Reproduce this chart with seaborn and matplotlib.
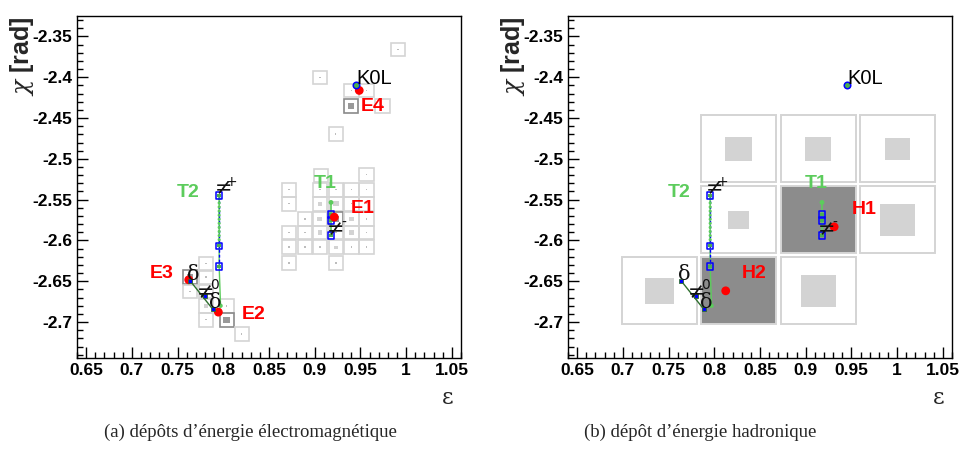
import numpy as np
import pandas as pd
import matplotlib.pyplot as plt
from matplotlib.patches import Rectangle
from matplotlib.ticker import MultipleLocator, FuncFormatter
import seaborn as sns

sns.set_theme(style='white')
plt.rcParams['font.family'] = ['Liberation Sans', 'DejaVu Sans']
plt.rcParams['mathtext.fontset'] = 'dejavuserif'

# ---------------- DONNEES ----------------
# cellules ECAL : eta, phi, energie (GeV), graine du cluster
ecal_eta = [0.9913, 0.9057, 0.9403, 0.9567, 0.9396, 0.9742, 0.9229,
            0.9065, 0.9567,
            0.8719, 0.9057, 0.9232, 0.9403, 0.9567,
            0.8719, 0.9057, 0.9232, 0.9403, 0.9567,
            0.8893, 0.9057, 0.9232, 0.9403, 0.9567,
            0.8719, 0.8893, 0.9057, 0.9232, 0.9403, 0.9567,
            0.8719, 0.8893, 0.9057, 0.9232, 0.9403, 0.9567,
            0.8719, 0.9232,
            0.7811, 0.7637, 0.7811, 0.7637, 0.7811, 0.7811, 0.8037,
            0.7811, 0.8037, 0.8201]
ecal_phi = [-2.3663, -2.4002, -2.4162, -2.4162, -2.4350, -2.4350, -2.4697,
            -2.5203, -2.5195,
            -2.5379, -2.5379, -2.5379, -2.5379, -2.5379,
            -2.5551, -2.5551, -2.5551, -2.5551, -2.5551,
            -2.5739, -2.5739, -2.5739, -2.5739, -2.5739,
            -2.5902, -2.5902, -2.5902, -2.5902, -2.5902, -2.5902,
            -2.6082, -2.6082, -2.6082, -2.6082, -2.6082, -2.6082,
            -2.6278, -2.6278,
            -2.6286, -2.6449, -2.6449, -2.6625, -2.6625, -2.6801, -2.6801,
            -2.6972, -2.6972, -2.7148]
ecal_e = [0.01, 0.01, 0.01, 0.01, 0.20, 0.01, 0.01,
          0.01, 0.01,
          0.01, 0.01, 0.01, 0.01, 0.01,
          0.01, 0.08, 0.15, 0.01, 0.01,
          0.01, 0.12, 0.20, 0.10, 0.01,
          0.01, 0.01, 0.10, 0.01, 0.10, 0.01,
          0.01, 0.01, 0.01, 0.06, 0.01, 0.01,
          0.01, 0.01,
          0.01, 0.20, 0.01, 0.01, 0.01, 0.08, 0.01,
          0.01, 0.20, 0.01]
ecal_seed = [0, 0, 0, 0, 1, 0, 0,
             0, 0,
             0, 0, 0, 0, 0,
             0, 0, 0, 0, 0,
             0, 0, 1, 0, 0,
             0, 0, 0, 0, 0, 0,
             0, 0, 0, 0, 0, 0,
             0, 0,
             0, 1, 0, 0, 0, 0, 0,
             0, 1, 0]

# cellules HCAL
hcal_eta = [0.8264, 0.9136, 1.0002, 0.8264, 0.9136, 1.0002, 0.7400, 0.8264, 0.9136]
hcal_phi = [-2.4879, -2.4879, -2.4879, -2.5747, -2.5747, -2.5747, -2.6619, -2.6619, -2.6619]
hcal_e = [4.9, 4.9, 4.4, 2.9, 30.0, 8.8, 5.8, 25.0, 8.8]
hcal_seed = [0, 0, 0, 0, 1, 0, 0, 1, 0]

# clusters
ecal_clu_eta = [0.9214, 0.7946, 0.7622, 0.9487]
ecal_clu_phi = [-2.5714, -2.6878, -2.6482, -2.4162]
ecal_clu_lab = ['E1', 'E2', 'E3', 'E4']
ecal_lab_eta = [0.9396, 0.8201, 0.7199, 0.9505]
ecal_lab_phi = [-2.5612, -2.6903, -2.6409, -2.4358]

hcal_clu_eta = [0.9311, 0.8125]
hcal_clu_phi = [-2.5833, -2.6617]
hcal_clu_lab = ['H1', 'H2']
hcal_lab_eta = [0.9500, 0.8300]
hcal_lab_phi = [-2.5616, -2.6409]

# traces
t2_eta = [0.7955, 0.7955, 0.7955]
t2_phi = [-2.5450, -2.6065, -2.6320]
t2_sim_eta = [0.7955, 0.7955, 0.7970]
t2_sim_phi = [-2.5450, -2.6320, -2.6800]
t2_pts_phi = [-2.549, -2.554, -2.559, -2.564, -2.569, -2.574, -2.579,
              -2.584, -2.589, -2.594, -2.599, -2.604]
t1_eta = [0.9178, 0.9178, 0.9178]
t1_phi = [-2.5685, -2.5755, -2.5939]
t1_sim_eta = [0.9178, 0.9178]
t1_sim_phi = [-2.5534, -2.5939]
trk_lab = ['T1', 'T2']
trk_lab_eta = [0.8985, 0.7491]
trk_lab_phi = [-2.5297, -2.5408]

# pi0 -> 2 photons
gam_eta = [0.7637, 0.7800, 0.7884]
gam_phi = [-2.6494, -2.6680, -2.6841]

# K0L
k0l_eta = [0.9447]
k0l_phi = [-2.4100]

# symboles des particules (rendus ROOT)
sym_txt = ['≠', '≠', '≠', 'δ', 'δ']
sym_sup = ['+', '-', '0', '', '']
sym_eta = [0.8000, 0.9225, 0.7810, 0.7675, 0.7915]
sym_phi = [-2.5370, -2.5870, -2.6640, -2.6420, -2.6760]

# ---------------- FIGURE ----------------
fig = plt.figure(figsize=(9.59, 4.66), dpi=100)
ax1 = fig.add_axes([77 / 959, 108 / 466, 384 / 959, 342 / 466])
ax2 = fig.add_axes([568 / 959, 108 / 466, 384 / 959, 342 / 466])

green = '#5ccc5c'
dgreen = '#2f6f2f'


def cadre(ax):
    ax.set_xlim(0.64, 1.06)
    ax.set_ylim(-2.744, -2.325)
    ax.xaxis.set_major_locator(MultipleLocator(0.05))
    ax.xaxis.set_minor_locator(MultipleLocator(0.01))
    ax.yaxis.set_major_locator(MultipleLocator(0.05))
    ax.yaxis.set_minor_locator(MultipleLocator(0.01))
    fmt = FuncFormatter(lambda v, p: '%g' % round(v, 3))
    ax.xaxis.set_major_formatter(fmt)
    ax.yaxis.set_major_formatter(fmt)
    ax.tick_params(which='major', direction='in', length=8, width=1, colors='black',
                   labelsize=12.5, bottom=True, left=True, top=False, right=False)
    ax.tick_params(which='minor', direction='in', length=4, width=1, colors='black',
                   bottom=True, left=True, top=False, right=False)
    for lab in ax.get_xticklabels() + ax.get_yticklabels():
        lab.set_fontweight('bold')
    for s in ax.spines.values():
        s.set_color('black')
        s.set_linewidth(1.0)
    ax.set_xlabel('')
    ax.set_ylabel('')
    ax.text(-0.1445, 1.0, r'$\chi$ [rad]', transform=ax.transAxes, rotation=90,
            ha='center', va='top', fontsize=18, fontweight='bold')
    ax.text(0.966, -0.117, 'ε', transform=ax.transAxes, ha='center', va='center',
            fontsize=16, family='DejaVu Serif')


def cellules(ax, xs, ys, es, seeds, w, h, eref, lw, hcal=False):
    for x, y, e, s in zip(xs, ys, es, seeds):
        if hcal and s:
            ax.add_patch(Rectangle((x - w / 2, y - h / 2), w, h, fc='#8c8c8c',
                                   ec='#d6d6d6', lw=lw, zorder=1))
            continue
        ec = '#8a8a8a' if s else '#d4d4d4'
        ax.add_patch(Rectangle((x - w / 2, y - h / 2), w, h, fill=False,
                               ec=ec, lw=lw, zorder=1))
        f = min(0.9, np.sqrt(e / eref))
        fc = '#999999' if (s and not hcal) else ('#d3d3d3' if e > 0.02 else '#bdbdbd')
        ax.add_patch(Rectangle((x - f * w / 2, y - f * h / 2), f * w, f * h,
                               fc=fc, ec='none', zorder=1))


def traces(ax):
    # T2
    sns.lineplot(x=t2_sim_eta, y=t2_sim_phi, ax=ax, sort=False, estimator=None,
                 color=green, lw=1.0, zorder=3)
    sns.lineplot(x=t2_eta, y=t2_phi, ax=ax, sort=False, estimator=None,
                 color='blue', lw=1.0, linestyle=(0, (2, 1.5)), zorder=4)
    sns.scatterplot(x=[t2_eta[0]] * len(t2_pts_phi), y=t2_pts_phi, ax=ax, color=green,
                    s=5, edgecolor='none', zorder=4, legend=False)
    sns.scatterplot(x=[t2_sim_eta[-1]], y=[t2_sim_phi[-1]], ax=ax, color=green,
                    s=10, edgecolor='none', zorder=4, legend=False)
    # T1
    sns.lineplot(x=t1_sim_eta, y=t1_sim_phi, ax=ax, sort=False, estimator=None,
                 color=green, lw=1.2, zorder=3)
    sns.scatterplot(x=[t1_sim_eta[0]], y=[t1_sim_phi[0]], ax=ax, color=green,
                    s=12, edgecolor='none', zorder=4, legend=False)
    for ex, ph in ((t2_eta, t2_phi), (t1_eta, t1_phi)):
        sns.scatterplot(x=ex, y=ph, ax=ax, marker='s', s=22, facecolor='none',
                        edgecolor='blue', linewidth=1.1, zorder=5, legend=False)
        sns.scatterplot(x=ex, y=ph, ax=ax, marker='s', s=6, color='#4caf50',
                        edgecolor='none', zorder=5, legend=False)
    # photons du pi0
    sns.lineplot(x=[gam_eta[0], gam_eta[2]], y=[gam_phi[0], gam_phi[2]], ax=ax,
                 sort=False, estimator=None, color=dgreen, lw=1.0, zorder=5)
    sns.scatterplot(x=gam_eta, y=gam_phi, ax=ax, marker='s', s=12, color='blue',
                    edgecolor=dgreen, linewidth=0.6, zorder=6, legend=False)
    # K0L
    sns.scatterplot(x=k0l_eta, y=k0l_phi, ax=ax, marker='o', s=22, facecolor='#4caf50',
                    edgecolor='blue', linewidth=1.1, zorder=6, legend=False)
    ax.text(k0l_eta[0] + 0.0005, k0l_phi[0] + 0.009, 'K0L', fontsize=14.5,
            color='black', ha='left', va='center', zorder=7)
    for t, x, y in zip(trk_lab, trk_lab_eta, trk_lab_phi):
        ax.text(x, y, t, color=green, fontsize=14, fontweight='bold',
                ha='left', va='center', zorder=7)
    for t, sup, x, y in zip(sym_txt, sym_sup, sym_eta, sym_phi):
        ax.text(x, y, t, fontsize=15, family='DejaVu Serif', ha='center',
                va='center', color='#111111', zorder=7)
        if sup:
            ax.text(x + 0.009, y + 0.009, sup, fontsize=10, family='DejaVu Sans',
                    ha='center', va='center', color='#111111', zorder=7)


# (a) ECAL
cellules(ax1, ecal_eta, ecal_phi, ecal_e, ecal_seed, 0.0155, 0.0165, 1.0, 1.2)
traces(ax1)
sns.scatterplot(x=ecal_clu_eta, y=ecal_clu_phi, ax=ax1, color='red', s=40,
                edgecolor='none', zorder=5.5, legend=False)
for t, x, y in zip(ecal_clu_lab, ecal_lab_eta, ecal_lab_phi):
    ax1.text(x, y, t, color='red', fontsize=14, fontweight='bold',
             ha='left', va='center', zorder=7)

# (b) HCAL
cellules(ax2, hcal_eta, hcal_phi, hcal_e, hcal_seed, 0.0822, 0.0821, 40.0, 1.4, hcal=True)
traces(ax2)
sns.scatterplot(x=hcal_clu_eta, y=hcal_clu_phi, ax=ax2, color='red', s=40,
                edgecolor='none', zorder=5.5, legend=False)
for t, x, y in zip(hcal_clu_lab, hcal_lab_eta, hcal_lab_phi):
    ax2.text(x, y, t, color='red', fontsize=14, fontweight='bold',
             ha='left', va='center', zorder=7)

cadre(ax1)
cadre(ax2)

fig.text(250 / 959, 1 - 432 / 466, '(a) dépôts d’énergie électromagnétique',
         ha='center', va='center', fontsize=13.5, family='Liberation Serif')
fig.text(700 / 959, 1 - 432 / 466, '(b) dépôt d’énergie hadronique',
         ha='center', va='center', fontsize=13.5, family='Liberation Serif')

plt.savefig('out.png', dpi=100)
